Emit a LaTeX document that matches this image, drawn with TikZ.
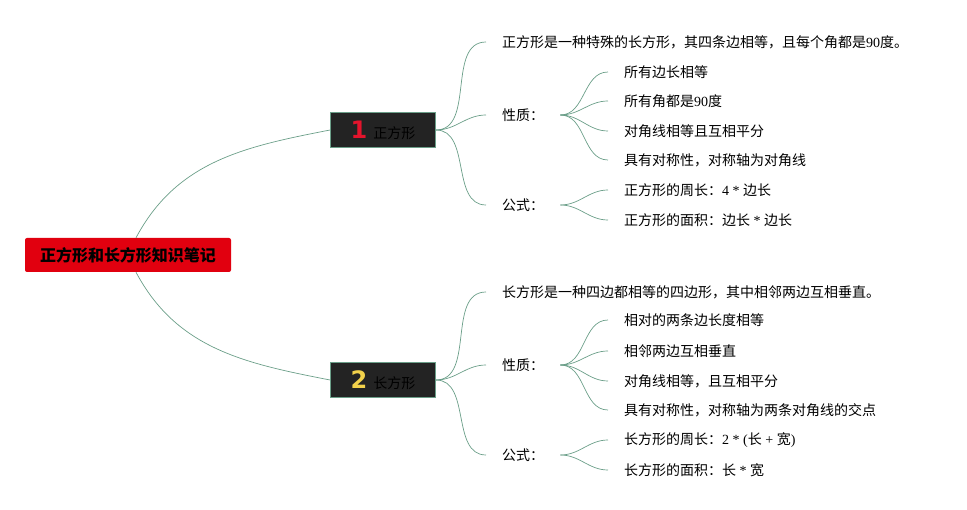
\documentclass[tikz,border=0pt]{standalone}
\usepackage{fontspec}
\setmainfont{Noto Sans CJK SC}
\newfontfamily\numfont{Liberation Serif}
\newfontfamily\badgefont{DejaVu Sans}
\usetikzlibrary{positioning}
\definecolor{branchgreen}{HTML}{6A9E88}
\definecolor{rootred}{HTML}{E1000F}
\definecolor{boxdark}{HTML}{232323}
\definecolor{badgered}{HTML}{E3142C}
\definecolor{badgeyellow}{HTML}{F2D14B}
\tikzset{
	branch/.style={draw=branchgreen, line width=0.7pt},
	rootbox/.style={fill=rootred, rounded corners=2pt, minimum width=206pt,
		minimum height=34pt, inner sep=0pt, font=\fontsize{16}{18}\selectfont\bfseries},
	topicbox/.style={fill=boxdark, draw=branchgreen, line width=0.8pt,
		minimum width=105pt, minimum height=35pt, inner sep=0pt,
		font=\fontsize{14}{16}\selectfont},
	leaf/.style={anchor=west, inner xsep=16pt, inner ysep=0pt,
		font=\fontsize{14}{16}\selectfont},
}
\newcommand{\badge}[2]{{\badgefont\fontsize{24}{24}\selectfont\bfseries\color{#1}#2}\hspace{6pt}}
\begin{document}
\begin{tikzpicture}[x=1pt,y=-1pt]
	\useasboundingbox (0,0) rectangle (967,510);
	% root and the two topics
	\node[rootbox] (root) at (128,255) {正方形和长方形知识笔记};
	\node[topicbox] (sq) at (383,130) {\badge{badgered}{1}正方形};
	\node[topicbox] (rc) at (383,380) {\badge{badgeyellow}{2}长方形};
	\draw[branch] ([xshift=8pt]root.north) to[out=62,in=191,looseness=1] (sq.west);
	\draw[branch] ([xshift=8pt]root.south) to[out=-62,in=169,looseness=1] (rc.west);
	% 正方形
	\node[leaf] (sqdef) at (486,42) {正方形是一种特殊的长方形，其四条边相等，且每个角都是{\numfont 90}度。};
	\node[leaf] (sqprop) at (486,115) {性质：};
	\node[leaf] (sqform) at (486,205) {公式：};
	\foreach \Nombre in {sqdef,sqprop,sqform}
	{
		\draw[branch] (sq.east) to[out=0,in=180] (\Nombre.west);
	}
	\foreach \Yc/\Texto [count=\i] in
	{72/所有边长相等,101/所有角都是{\numfont 90}度,131/对角线相等且互相平分,160/具有对称性，对称轴为对角线}
	{
		\node[leaf] (sqp\i) at (608,\Yc) {\Texto};
		\draw[branch] (sqprop.east) to[out=0,in=180] (sqp\i.west);
	}
	\foreach \Yc/\Texto [count=\i] in
	{190/正方形的周长：{\numfont 4 * }边长,220/正方形的面积：边长{\numfont\ * }边长}
	{
		\node[leaf] (sqf\i) at (608,\Yc) {\Texto};
		\draw[branch] (sqform.east) to[out=0,in=180] (sqf\i.west);
	}
	% 长方形
	\node[leaf] (rcdef) at (486,292) {长方形是一种四边都相等的四边形，其中相邻两边互相垂直。};
	\node[leaf] (rcprop) at (486,365) {性质：};
	\node[leaf] (rcform) at (486,455) {公式：};
	\foreach \Nombre in {rcdef,rcprop,rcform}
	{
		\draw[branch] (rc.east) to[out=0,in=180] (\Nombre.west);
	}
	\foreach \Yc/\Texto [count=\i] in
	{320/相对的两条边长度相等,351/相邻两边互相垂直,381/对角线相等，且互相平分,410/具有对称性，对称轴为两条对角线的交点}
	{
		\node[leaf] (rcp\i) at (608,\Yc) {\Texto};
		\draw[branch] (rcprop.east) to[out=0,in=180] (rcp\i.west);
	}
	\foreach \Yc/\Texto [count=\i] in
	{440/长方形的周长：{\numfont 2 * (}长{\numfont\ + }宽{\numfont )},470/长方形的面积：长{\numfont\ * }宽}
	{
		\node[leaf] (rcf\i) at (608,\Yc) {\Texto};
		\draw[branch] (rcform.east) to[out=0,in=180] (rcf\i.west);
	}
\end{tikzpicture}
\end{document}
